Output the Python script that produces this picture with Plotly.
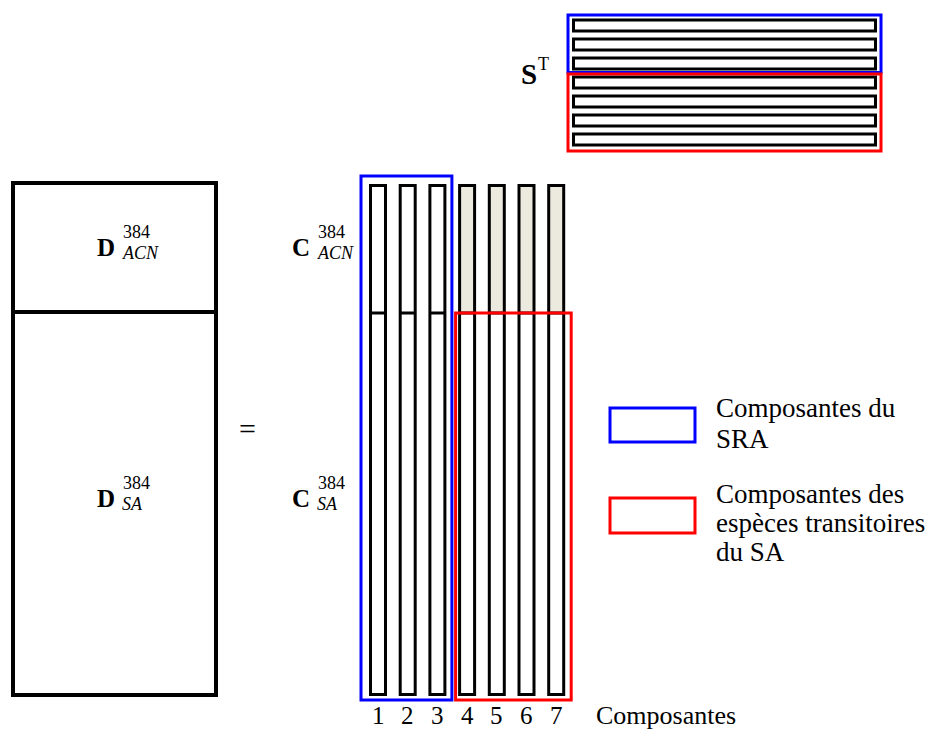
import plotly.graph_objects as go

# ---- data ----
components = [1, 2, 3, 4, 5, 6, 7]
sra_components = [1, 2, 3]
transient_components = [4, 5, 6, 7]
spectra_rows = [1, 2, 3, 4, 5, 6, 7]
axis_label = "Composantes"
legend_sra = ["Composantes du", "SRA"]
legend_trans = ["Composantes des", "espèces transitoires", "du SA"]

FONT = "Liberation Serif"
BLUE = "#0000FF"
RED = "#FF0000"
BEIGE = "#ECE9DF"

fig = go.Figure()
fig.add_trace(go.Scatter(x=[0, 931], y=[0, 731], mode="markers",
                         marker=dict(opacity=0), hoverinfo="skip", showlegend=False))

shapes = []
ann = []

def rect(x0, y0, x1, y1, color="black", width=3, fill=None, layer="above"):
    shapes.append(dict(type="rect", xref="x", yref="y", x0=x0, y0=y0, x1=x1, y1=y1,
                       line=dict(color=color, width=width),
                       fillcolor=fill if fill else "rgba(0,0,0,0)", layer=layer))

def line(x0, y0, x1, y1, color="black", width=3):
    shapes.append(dict(type="line", xref="x", yref="y", x0=x0, y0=y0, x1=x1, y1=y1,
                       line=dict(color=color, width=width)))

def text(x, y, s, size=26, xanchor="left", bold=False, italic=False):
    if bold:
        s = "<b>" + s + "</b>"
    if italic:
        s = "<i>" + s + "</i>"
    ann.append(dict(x=x, y=y, xref="x", yref="y", text=s, showarrow=False,
                    xanchor=xanchor, yanchor="middle",
                    font=dict(family=FONT, size=size, color="black")))

# ---- D matrix ----
D_top, D_div, D_bot = 183, 312, 695
rect(13, D_top, 216, D_bot, width=4)
line(13, D_div, 216, D_div, width=4)

# ---- C columns ----
col_x0, col_dx, col_half = 378, 29.7, 7.5
C_top, C_div, C_bot = 185.5, 313, 694.5
centers = {c: col_x0 + (c - 1) * col_dx for c in components}
for c in components:
    cx = centers[c]
    if c in transient_components:
        rect(cx - col_half, C_top, cx + col_half, C_div, width=0, fill=BEIGE, layer="below")
    rect(cx - col_half, C_top, cx + col_half, C_bot, width=3)
    line(cx - col_half, C_div, cx + col_half, C_div, width=3)
    text(cx, 715, str(c), size=25, xanchor="center")

text(594, 715, axis_label, size=26)

# group boxes around columns
sx0 = centers[min(sra_components)] - 17
sx1 = centers[max(sra_components)] + 14.5
rect(sx0, 176, sx1, 700, color=BLUE, width=3)
tx0 = centers[min(transient_components)] - 11.5
tx1 = centers[max(transient_components)] + 15
rect(tx0, 313, tx1, 700, color=RED, width=3)

# ---- S^T rows ----
row_y0, row_dy, row_half = 25.5, 19, 5.5
for r in spectra_rows:
    cy = row_y0 + (r - 1) * row_dy
    rect(573.5, cy - row_half, 875.5, cy + row_half, width=3)
rect(568, 15, 881, 72.5, color=BLUE, width=3)
rect(568, 74, 881, 151, color=RED, width=3)
text(519, 74, "S", size=29, bold=True)
text(536, 64, "T", size=18)

# ---- labels for D and C ----
def matlab(xl, y, letter, sub):
    text(xl, y, letter, size=25, bold=True)
    text(xl + 26, y - 15, "384", size=18)
    text(xl + 25, y + 6, sub, size=18, italic=True)

matlab(95, 247, "D", "ACN")
matlab(290, 247, "C", "ACN")
matlab(95, 498, "D", "SA")
matlab(290, 498, "C", "SA")

text(247, 428, "=", size=30, xanchor="center")

# ---- legend ----
rect(610, 408, 695, 442, color=BLUE, width=3)
rect(610, 498, 695, 533, color=RED, width=3)
for i, s in enumerate(legend_sra):
    text(714, 408 + i * 31, s, size=27)
for i, s in enumerate(legend_trans):
    text(714, 494 + i * 29, s, size=27)

fig.update_layout(
    width=931, height=731,
    margin=dict(l=0, r=0, t=0, b=0),
    paper_bgcolor="white", plot_bgcolor="white",
    xaxis=dict(range=[0, 931], visible=False, fixedrange=True),
    yaxis=dict(range=[731, 0], visible=False, fixedrange=True),
    shapes=shapes, annotations=ann, showlegend=False,
)
fig.write_html("out.html", config={"displayModeBar": False},
               post_script="document.body.style.margin='0';document.body.style.overflow='hidden';")
